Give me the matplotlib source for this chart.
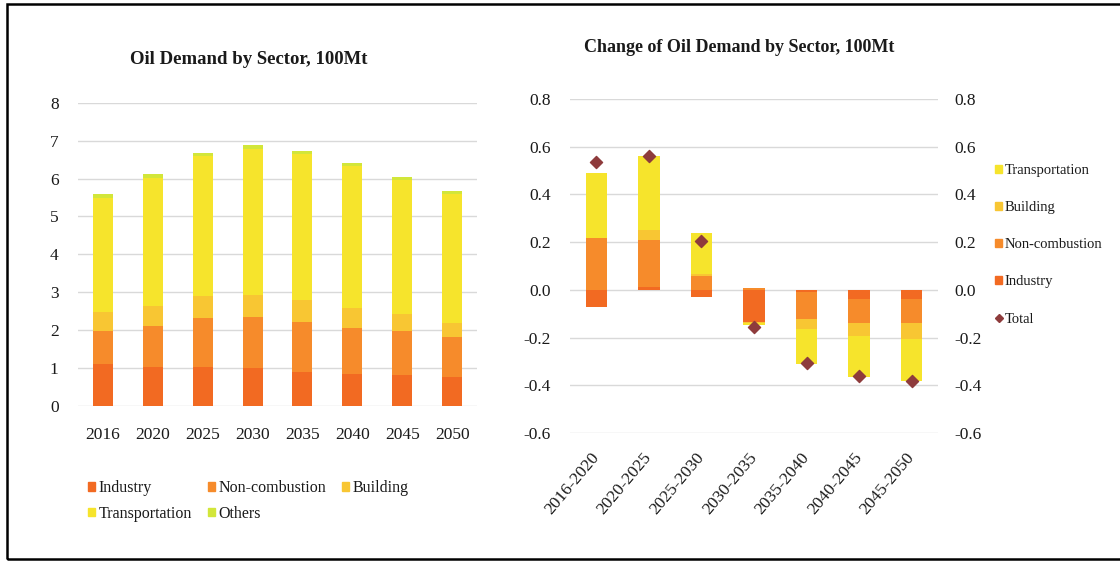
import matplotlib
matplotlib.use('Agg')
import matplotlib.pyplot as plt
from matplotlib.patches import Patch, Rectangle
from matplotlib.lines import Line2D
from matplotlib.ticker import FormatStrFormatter
import numpy as np

plt.rcParams['font.family'] = ['Liberation Serif', 'DejaVu Serif']
plt.rcParams['axes.unicode_minus'] = False

# left chart: oil demand by sector (100Mt)
years = ['2016', '2020', '2025', '2030', '2035', '2040', '2045', '2050']
industry = [1.11, 1.04, 1.02, 1.00, 0.89, 0.84, 0.82, 0.77]
non_combustion = [0.88, 1.08, 1.29, 1.35, 1.33, 1.23, 1.16, 1.06]
building = [0.50, 0.52, 0.59, 0.58, 0.58, 0.52, 0.44, 0.37]
transportation = [3.00, 3.38, 3.69, 3.86, 3.84, 3.74, 3.54, 3.38]
others = [0.09, 0.09, 0.09, 0.09, 0.09, 0.09, 0.09, 0.09]

# right chart: change of oil demand by sector
periods = ['2016-2020', '2020-2025', '2025-2030', '2030-2035', '2035-2040', '2040-2045', '2045-2050']
d_industry = [-0.073, 0.010, -0.030, -0.133, -0.010, -0.038, -0.038]
d_non_combustion = [0.216, 0.200, 0.060, 0.008, -0.113, -0.099, -0.099]
d_building = [0.000, 0.040, 0.005, -0.005, -0.042, -0.058, -0.070]
d_transportation = [0.272, 0.310, 0.175, -0.010, -0.145, -0.172, -0.177]
d_total = [0.537, 0.560, 0.205, -0.154, -0.307, -0.362, -0.384]

c_ind = '#F26A22'
c_non = '#F68B2B'
c_bld = '#F8C633'
c_tra = '#F6E42C'
c_oth = '#D2E63A'
c_tot = '#8E3B3C'
grid_c = '#D9D9D9'
txt_c = '#1a1a1a'

fig = plt.figure(figsize=(11.2, 5.63), dpi=100)

# outer frame
fig.patches.append(Rectangle((7/1120, 4/563), 1.02, 555/563, transform=fig.transFigure,
                             fill=False, edgecolor='black', linewidth=1.8))

# ---- left chart
ax1 = fig.add_axes([78/1120, 1-406/563, 399/1120, 303.3/563])
x = np.arange(len(years))
series = [(industry, c_ind), (non_combustion, c_non), (building, c_bld),
          (transportation, c_tra), (others, c_oth)]
bottom = np.zeros(len(years))
for vals, col in series:
    ax1.bar(x, vals, 0.4, bottom=bottom, color=col, zorder=3)
    bottom += np.array(vals)
ax1.set_xlim(-0.5, len(years)-0.5)
ax1.set_ylim(0, 8)
ax1.set_yticks(range(0, 9))
ax1.set_xticks(x)
ax1.set_xticklabels(years)
ax1.grid(axis='y', color=grid_c, linewidth=1, zorder=0)
ax1.tick_params(length=0, labelsize=12.5, colors=txt_c)
ax1.tick_params(axis='x', pad=15)
ax1.tick_params(axis='y', pad=14)
for s in ax1.spines.values():
    s.set_visible(False)
fig.text(249/1120, 1-60/563, 'Oil Demand by Sector, 100Mt', ha='center', va='center',
         fontsize=13.5, fontweight='bold', color=txt_c)

h = [Patch(color=c_ind, label='Industry'), Patch(color=c_tra, label='Transportation'),
     Patch(color=c_non, label='Non-combustion'), Patch(color=c_oth, label='Others'),
     Patch(color=c_bld, label='Building')]
fig.legend(handles=h, loc='upper left', bbox_to_anchor=(80/1120, 1-472/563), ncol=3,
           frameon=False, fontsize=11.5, handlelength=0.45, handleheight=0.45,
           handletextpad=0.2, columnspacing=1.0, labelspacing=0.6, borderpad=0,
           labelcolor=txt_c)

# ---- right chart
ax2 = fig.add_axes([570/1120, 1-433/563, 368/1120, 334/563])
x2 = np.arange(len(periods))
pos = np.zeros(len(periods))
neg = np.zeros(len(periods))
for vals, col in [(d_industry, c_ind), (d_non_combustion, c_non),
                  (d_building, c_bld), (d_transportation, c_tra)]:
    v = np.array(vals)
    b = np.where(v >= 0, pos, neg)
    ax2.bar(x2, v, 0.41, bottom=b, color=col, zorder=3)
    pos = pos + np.where(v >= 0, v, 0)
    neg = neg + np.where(v < 0, v, 0)
ax2.scatter(x2, d_total, marker='D', s=38, color=c_tot, zorder=4)
ax2.set_xlim(-0.5, len(periods)-0.5)
ax2.set_ylim(-0.6, 0.8)
ticks = np.arange(-0.6, 0.81, 0.2)
ax2.set_yticks(ticks)
ax2.yaxis.set_major_formatter(FormatStrFormatter('%.1f'))
ax2.set_xticks(x2)
ax2.set_xticklabels(periods, rotation=50, ha='right', va='center', rotation_mode='anchor',
                    fontsize=13.5)
ax2.grid(axis='y', color=grid_c, linewidth=1, zorder=0)
ax2.tick_params(length=0, labelsize=12.5, colors=txt_c)
ax2.tick_params(axis='x', pad=16)
ax2.tick_params(axis='y', pad=14)
for s in ax2.spines.values():
    s.set_visible(False)

ax3 = ax2.twinx()
ax3.set_ylim(-0.6, 0.8)
ax3.set_yticks(ticks)
ax3.yaxis.set_major_formatter(FormatStrFormatter('%.1f'))
ax3.tick_params(length=0, labelsize=12.5, colors=txt_c, pad=12)
for s in ax3.spines.values():
    s.set_visible(False)

fig.text(739/1120, 1-48/563, 'Change of Oil Demand by Sector, 100Mt', ha='center', va='center',
         fontsize=13, fontweight='bold', color=txt_c)

h2 = [Patch(color=c_tra, label='Transportation'), Patch(color=c_bld, label='Building'),
      Patch(color=c_non, label='Non-combustion'), Patch(color=c_ind, label='Industry'),
      Line2D([], [], marker='D', color=c_tot, linestyle='none', markersize=4, label='Total')]
fig.legend(handles=h2, loc='upper left', bbox_to_anchor=(988/1120, 1-157/563),
           frameon=False, fontsize=10.5, handlelength=0.45, handleheight=0.45,
           handletextpad=0.2, labelspacing=1.65, borderpad=0, labelcolor=txt_c)

fig.savefig('out.png', dpi=100)
